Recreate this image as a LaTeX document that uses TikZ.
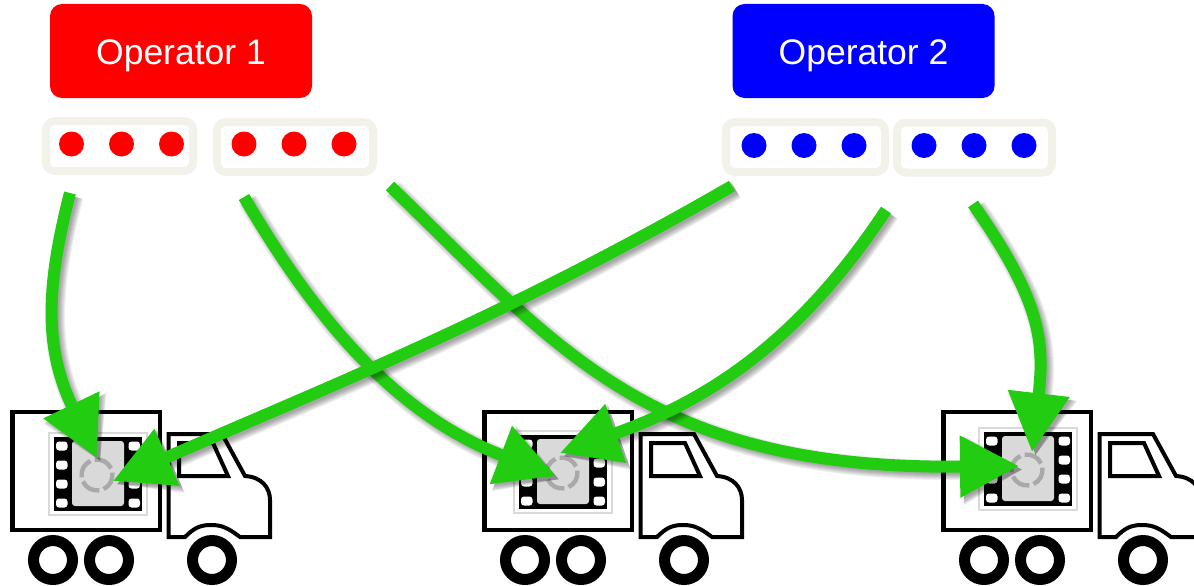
\documentclass[tikz,border=0pt]{standalone}
\usepackage{fontspec}
\setmainfont{Liberation Sans}
\usetikzlibrary{arrows.meta}
\definecolor{arrowgreen}{HTML}{22CC11}
\definecolor{slotedge}{HTML}{F3F2EA}
\definecolor{filmgrey}{HTML}{D9D9D9}
\definecolor{ringgrey}{HTML}{A9A9A9}
\tikzset{
  operator/.style={rectangle,rounded corners=12pt,minimum width=262pt,minimum height=94pt,inner sep=0pt,text=white,text height=27pt,text depth=0pt,font=\fontsize{35.5}{42}\selectfont},
  slotbox/.style={rectangle,draw=slotedge,line width=8pt,rounded corners=9pt,fill=white,minimum height=50pt,inner sep=0pt},
  dot/.style={circle,minimum size=25pt,inner sep=0pt},
  truckline/.style={draw=black,line width=4.6pt,fill=white,line join=miter},
  cabline/.style={draw=black,line width=4pt,fill=white,line join=miter},
  wheel/.style={draw=black,line width=11pt,fill=white},
  hole/.style={fill=white,rounded corners=3pt},
  ring/.style={draw=ringgrey,line width=4.4pt},
}
\newcommand{\lorry}[1]{%
  \begin{scope}[shift={(#1,0)}]
    \path[truckline] (12.5,412) rectangle (160,530);
    \path[cabline] (168.5,434) -- (222,434) -- (245,476) .. controls (262,477) and (270,488) .. (270,500)
      -- (270,537) -- (240,537) .. controls (228,528) and (222,525) .. (211,525)
      .. controls (200,525) and (194,528) .. (185,537) -- (168.5,537) -- cycle;
    \path[cabline] (179,443) -- (213,443) -- (228,476) -- (179,476) -- cycle;
    \path[wheel] (53,560) circle (19.5);
    \path[wheel] (109,560) circle (19.5);
    \path[wheel] (212,560) circle (19.5);
  \end{scope}}
\newcommand{\filmstrip}[2]{%
  \begin{scope}[shift={(#1,#2)}]
    \draw[filmgrey,line width=1.5pt] (49,433) rectangle (147,515);
    \fill[black] (54,437) rectangle (142,511);
    \foreach \hy in {446,465,484,503}{
      \path[hole] (56,\hy-4.5) rectangle (67.5,\hy+4.5);
      \path[hole] (128.5,\hy-4.5) rectangle (140,\hy+4.5);
    }
    \fill[filmgrey,rounded corners=3pt] (72,441) rectangle (124,506);
    \foreach \ang in {25,115,205,295}{
      \draw[ring] (97,475) ++(\ang:15.5pt) arc[start angle=\ang,delta angle=74,radius=15.5pt];
    }
  \end{scope}}
\newcommand{\greenarrow}[4]{%
  \foreach \sw/\sh in {20/66,18/64,16/62,14/60,12/58,10/56,8/54}{
    \draw[black,opacity=0.06,line width=\sw pt,transform canvas={xshift=3.5pt,yshift=-3.5pt},-{Triangle[length=59pt,width=\sh pt]}]
      (#1) .. controls #2 and #3 .. (#4);
  }
  \draw[arrowgreen,line width=12pt,-{Triangle[length=59pt,width=59pt]}]
    (#1) .. controls #2 and #3 .. (#4);}
\begin{document}
\begin{tikzpicture}[x=1pt,y=-1pt]
\useasboundingbox (0,0) rectangle (1194,586);
\node[operator,fill=red] (op1) at (181,51) {Operator 1};
\node[operator,fill=blue] (op2) at (863.5,51) {Operator 2};
\node[slotbox,minimum width=147pt] (s1) at (119.5,146) {};
\node[slotbox,minimum width=156pt] (s2) at (295,147) {};
\node[slotbox,minimum width=159pt] (s3) at (805.5,147) {};
\node[slotbox,minimum width=155pt] (s4) at (974.5,147.5) {};
\foreach \n/\cx in {a/71.5,b/121.5,c/171.5,d/244,e/294,f/344}{
  \node[dot,fill=red] (r\n) at (\cx,144) {};
}
\foreach \n/\cx in {a/754,b/804,c/854,d/924,e/974,f/1024}{
  \node[dot,fill=blue] (b\n) at (\cx,145.5) {};
}
\lorry{0}
\lorry{472}
\lorry{931}
\filmstrip{0}{0}
\filmstrip{465}{-2}
\filmstrip{930}{-5}
\coordinate (st1) at (70,193);
\coordinate (st2) at (244,197);
\coordinate (st3) at (390,186);
\coordinate (st4) at (732,186);
\coordinate (st5) at (886,210);
\coordinate (st6) at (973,204);
\coordinate (tip1) at (97,458);
\coordinate (tip2) at (556,476);
\coordinate (tip3) at (1019,466);
\coordinate (tip4) at (113,481);
\coordinate (tip5) at (560,453);
\coordinate (tip6) at (1032,452);
\greenarrow{st1}{(45,290)}{(45,350)}{tip1}
\greenarrow{st2}{(310,310)}{(391,413)}{tip2}
\greenarrow{st3}{(560,350)}{(650,470)}{tip3}
\greenarrow{st5}{(800,340)}{(710,400)}{tip5}
\greenarrow{st4}{(500,320)}{(320,390)}{tip4}
\greenarrow{st6}{(1040,300)}{(1045,340)}{tip6}
\end{tikzpicture}
\end{document}
